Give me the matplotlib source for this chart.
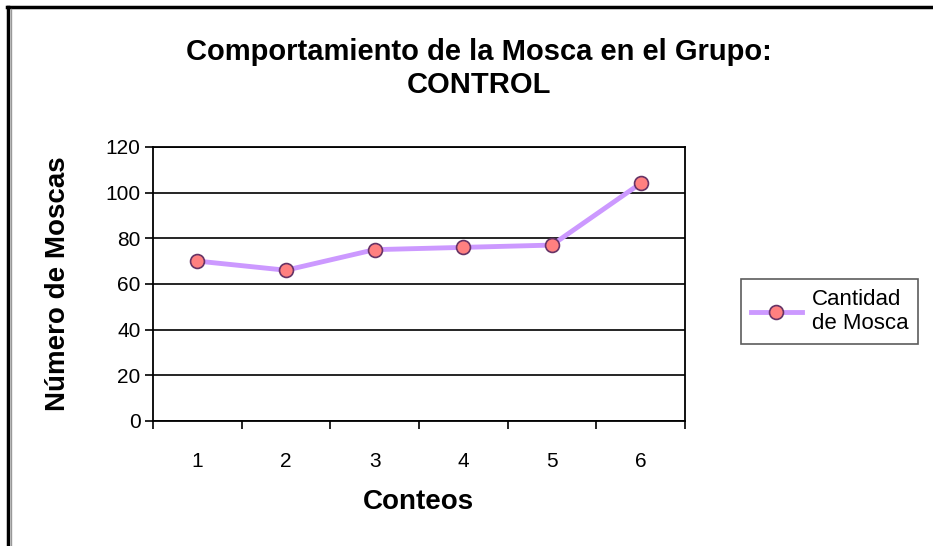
import matplotlib.pyplot as plt
from matplotlib.lines import Line2D

plt.rcParams['font.family'] = ['Liberation Sans', 'DejaVu Sans']

conteos = [1, 2, 3, 4, 5, 6]
moscas = [70, 66, 75, 76, 77, 104]
serie = 'Cantidad\nde Mosca'

fig = plt.figure(figsize=(9.33, 5.46), dpi=100)
ax = fig.add_axes([0.164, 0.229, 0.570, 0.502])

ax.plot(conteos, moscas, '-o', color='#cc99ff', lw=3.5, ms=10,
        markerfacecolor='#ff8080', markeredgecolor='#663366', mew=1.2,
        label=serie, zorder=3)

ax.set_xlim(0.5, 6.5)
ax.set_ylim(0, 120)
ax.set_yticks(range(0, 121, 20))
ax.set_xticks(conteos)
ax.set_xticks([x + 0.5 for x in range(0, 7)], minor=True)
ax.tick_params(axis='x', which='major', length=0, pad=22, labelsize=15)
ax.tick_params(axis='x', which='minor', length=6, width=1.2, direction='out')
ax.tick_params(axis='y', length=6, width=1.2, direction='out', labelsize=15, pad=3)
ax.grid(axis='y', color='black', lw=1.2)
ax.set_axisbelow(True)
for s in ax.spines.values():
    s.set_color('black')
    s.set_linewidth(1.3)

ax.set_xlabel('Conteos', fontsize=20, fontweight='bold', labelpad=13)
ax.set_ylabel('Número de Moscas', fontsize=20, fontweight='bold', labelpad=25)
fig.text(0.513, 0.93, 'Comportamiento de la Mosca en el Grupo:\nCONTROL',
         ha='center', va='top', fontsize=21, fontweight='bold', linespacing=1.2)

leg = ax.legend(loc='center left', bbox_to_anchor=(1.105, 0.40), fontsize=16,
                frameon=True, fancybox=False, handlelength=2.3,
                borderpad=0.45, handletextpad=0.45, borderaxespad=0)
leg.get_frame().set_edgecolor('#333333')
leg.get_frame().set_linewidth(1.2)

# outer chart border (only top and left visible)
fig.add_artist(Line2D([0.008, 1.0], [0.987, 0.987], color='black', lw=2.5))
fig.add_artist(Line2D([0.009, 0.009], [0.0, 0.987], color='black', lw=2.5))
fig.add_artist(Line2D([0.012, 0.012], [0.0, 0.983], color='#999999', lw=1))

fig.savefig('out.png', dpi=100)
